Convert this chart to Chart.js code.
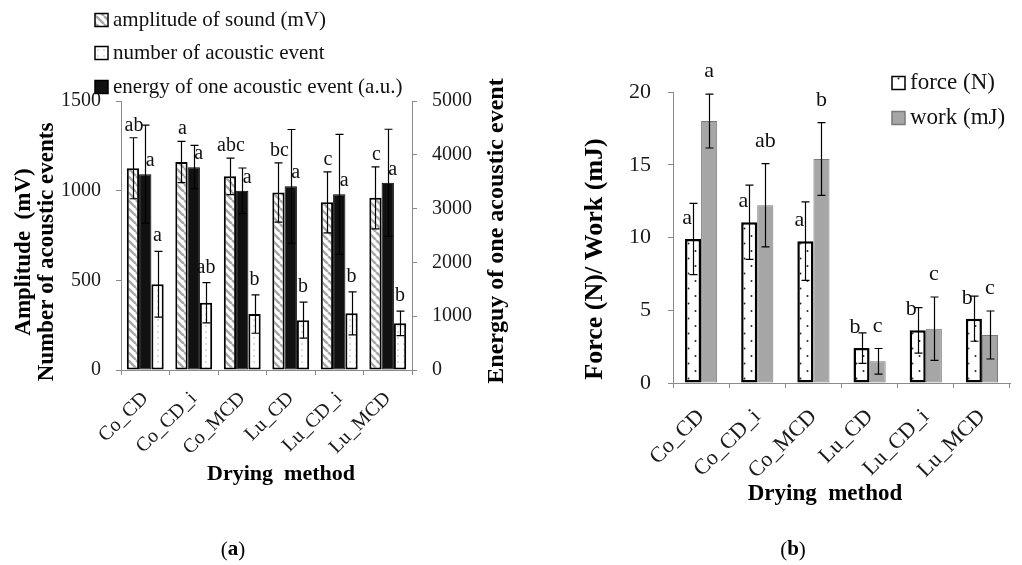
<!DOCTYPE html>
<html>
<head>
<meta charset="utf-8">
<script src="https://cdn.jsdelivr.net/npm/chart.js@4.4.1/dist/chart.umd.min.js"></script>
<style>
  html, body { margin: 0; padding: 0; background: #fff; }
  body { width: 1022px; height: 565px; position: relative; overflow: hidden; }
  #wrapA { position: absolute; left: 0; top: 0; width: 545px; height: 565px; }
  #wrapB { position: absolute; left: 545px; top: 0; width: 477px; height: 565px; }
</style>
</head>
<body>
<div id="wrapA"><canvas id="chartA"></canvas></div>
<div id="wrapB"><canvas id="chartB"></canvas></div>
<script>
// shared categories
const categories = ['Co_CD', 'Co_CD_i', 'Co_MCD', 'Lu_CD', 'Lu_CD_i', 'Lu_MCD'];

// panel (a)
const amplitude = [1125, 1160, 1080, 990, 935, 960];
const amplitudeErr = [170, 115, 102, 165, 170, 173];
const amplitudeLetters = ['ab', 'a', 'abc', 'bc', 'c', 'c'];
const energy = [3640, 3770, 3330, 3415, 3265, 3480];
const energyErr = [910, 405, 425, 1055, 1115, 995];
const energyLetters = ['a', 'a', 'a', 'a', 'a', 'a'];
const events = [478, 375, 312, 278, 316, 260];
const eventsErr = [183, 112, 107, 100, 120, 68];
const eventsLetters = ['a', 'ab', 'b', 'b', 'b', 'b'];
const leftTicksA = [0, 500, 1000, 1500];
const rightTicksA = [0, 1000, 2000, 3000, 4000, 5000];

// panel (b)
const force = [9.9, 11.05, 9.75, 2.4, 3.62, 4.42];
const forceErr = [2.45, 2.55, 2.7, 1.05, 1.56, 1.55];
const forceLetters = ['a', 'a', 'a', 'b', 'b', 'b'];
const work = [18.0, 12.22, 15.39, 1.49, 3.73, 3.3];
const workErr = [1.85, 2.86, 2.5, 0.88, 2.18, 1.65];
const workLetters = ['a', 'ab', 'b', 'c', 'c', 'c'];
const ticksB = [0, 5, 10, 15, 20];

const SERIF = "'Liberation Serif', 'Times New Roman', serif";
const AXIS = '#8a8a8a';

function hatchPattern(ctx) {
  const c = document.createElement('canvas');
  c.width = 8; c.height = 8;
  const g = c.getContext('2d');
  g.fillStyle = '#fff';
  g.fillRect(0, 0, 8, 8);
  g.strokeStyle = '#a8a8a8';
  g.lineWidth = 2.5;
  g.beginPath();
  for (const o of [-8, 0, 8]) { g.moveTo(o, 0); g.lineTo(o + 8, 8); }
  g.stroke();
  return ctx.createPattern(c, 'repeat');
}

function dotPattern(ctx, w, h, dots, color, r) {
  const c = document.createElement('canvas');
  c.width = w; c.height = h;
  const g = c.getContext('2d');
  g.fillStyle = '#fff';
  g.fillRect(0, 0, w, h);
  g.fillStyle = color;
  dots.forEach(([x, y]) => { g.beginPath(); g.arc(x, y, r, 0, Math.PI * 2); g.fill(); });
  return ctx.createPattern(c, 'repeat');
}

const errorBars = {
  id: 'errorBars',
  afterDatasetsDraw(chart) {
    const ctx = chart.ctx;
    chart.data.datasets.forEach((ds, i) => {
      if (!ds.errors) return;
      const meta = chart.getDatasetMeta(i);
      const scale = chart.scales[meta.yAxisID];
      ctx.save();
      ctx.strokeStyle = '#000';
      ctx.lineWidth = 1.2;
      meta.data.forEach((bar, j) => {
        const top = scale.getPixelForValue(ds.data[j] + ds.errors[j]);
        const bottom = scale.getPixelForValue(ds.data[j] - ds.errors[j]);
        const x = Math.round(bar.x) + 0.5;
        ctx.beginPath();
        ctx.moveTo(x, top); ctx.lineTo(x, bottom);
        ctx.moveTo(x - 4, top); ctx.lineTo(x + 4, top);
        ctx.moveTo(x - 4, bottom); ctx.lineTo(x + 4, bottom);
        ctx.stroke();
      });
      ctx.restore();
    });
  }
};

const letterLabels = {
  id: 'letterLabels',
  afterDatasetsDraw(chart, args, opts) {
    const ctx = chart.ctx;
    chart.data.datasets.forEach((ds, i) => {
      if (!ds.letters) return;
      const meta = chart.getDatasetMeta(i);
      const scale = chart.scales[meta.yAxisID];
      const p = ds.letterPlace;
      ctx.save();
      ctx.font = opts.font;
      ctx.fillStyle = '#111';
      ctx.textAlign = p.align;
      ctx.textBaseline = 'alphabetic';
      meta.data.forEach((bar, j) => {
        const ref = p.from === 'error' ? ds.data[j] + ds.errors[j] : ds.data[j];
        ctx.fillText(ds.letters[j], bar.x + p.dx, scale.getPixelForValue(ref) - p.gap);
      });
      ctx.restore();
    });
  }
};

const panelText = {
  id: 'panelText',
  afterDraw(chart, args, opts) {
    const ctx = chart.ctx;
    (opts.items || []).forEach(it => {
      ctx.save();
      ctx.translate(it.x, it.y);
      if (it.rot) ctx.rotate(it.rot * Math.PI / 180);
      ctx.fillStyle = '#000';
      ctx.textBaseline = 'middle';
      const parts = it.parts || [{ text: it.text, font: it.font }];
      let total = 0;
      parts.forEach(pt => { ctx.font = pt.font; pt.w = ctx.measureText(pt.text).width; total += pt.w; });
      let x = -total / 2;
      ctx.textAlign = 'left';
      parts.forEach(pt => { ctx.font = pt.font; ctx.fillText(pt.text, x, 0); x += pt.w; });
      ctx.restore();
    });
  }
};

const panelLegend = {
  id: 'panelLegend',
  afterDraw(chart, args, opts) {
    const ctx = chart.ctx;
    (opts.items || []).forEach(it => {
      const ds = chart.data.datasets[it.ds];
      ctx.save();
      ctx.fillStyle = ds.backgroundColor;
      ctx.fillRect(it.x, it.y - 6.5, 13, 13);
      ctx.strokeStyle = ds.legendBorder || '#000';
      ctx.lineWidth = 1.5;
      ctx.strokeRect(it.x, it.y - 6.5, 13, 13);
      ctx.font = opts.font;
      ctx.fillStyle = '#111';
      ctx.textBaseline = 'middle';
      ctx.fillText(ds.label, it.x + 18, it.y);
      ctx.restore();
    });
  }
};

function axisCommon(size) {
  return {
    grid: { drawOnChartArea: false, drawTicks: true, tickLength: 5, color: AXIS },
    border: { display: true, color: AXIS, width: 1 },
    ticks: { color: '#1a1a1a', font: { family: SERIF, size: size } }
  };
}

const plainNumber = v => String(v);

// ---------- panel (a)
const ctxA = document.getElementById('chartA').getContext('2d');
const xA = axisCommon(20);
xA.ticks.minRotation = 45; xA.ticks.maxRotation = 45; xA.ticks.padding = 12;
xA.afterFit = s => { s.height = 195; };
const yA = axisCommon(20);
Object.assign(yA, { min: 0, max: 1500, afterFit: s => { s.width = 121; } });
yA.ticks.padding = 15;
yA.ticks.callback = plainNumber;
yA.afterBuildTicks = s => { s.ticks = leftTicksA.map(v => ({ value: v })); };
const y1A = axisCommon(20);
Object.assign(y1A, { position: 'right', min: 0, max: 5000, afterFit: s => { s.width = 133; } });
y1A.ticks.padding = 15;
y1A.ticks.callback = plainNumber;
y1A.afterBuildTicks = s => { s.ticks = rightTicksA.map(v => ({ value: v })); };

new Chart(ctxA, {
  type: 'bar',
  data: {
    labels: categories,
    datasets: [
      { label: 'amplitude of sound (mV)', data: amplitude, errors: amplitudeErr, letters: amplitudeLetters,
        letterPlace: { from: 'error', gap: 7, dx: 1, align: 'center' },
        yAxisID: 'y', backgroundColor: hatchPattern(ctxA), borderColor: '#000', borderWidth: 2 },
      { label: 'energy of one acoustic event (a.u.)', data: energy, errors: energyErr, letters: energyLetters,
        letterPlace: { from: 'bar', gap: 8, dx: 5, align: 'center' },
        yAxisID: 'y1', backgroundColor: '#111', borderColor: '#000', borderWidth: 1 },
      { label: 'number of acoustic event', data: events, errors: eventsErr, letters: eventsLetters,
        letterPlace: { from: 'error', gap: 10, dx: 0, align: 'center' },
        yAxisID: 'y', backgroundColor: dotPattern(ctxA, 6, 6, [[2, 2]], '#a0a0a0', 0.7), borderColor: '#000', borderWidth: 2 }
    ]
  },
  options: {
    responsive: true, maintainAspectRatio: false, animation: false,
    layout: { padding: { top: 101, left: 0, right: 0, bottom: 0 } },
    datasets: { bar: { categoryPercentage: 0.76, barPercentage: 1, borderSkipped: false } },
    scales: { x: xA, y: yA, y1: y1A },
    plugins: {
      legend: { display: false },
      tooltip: { enabled: false },
      letterLabels: { font: '20px ' + SERIF },
      panelText: { items: [
        { text: 'Amplitude  (mV)', x: 24, y: 252, rot: -90, font: 'bold 23px ' + SERIF },
        { text: 'Number of acoustic events', x: 47, y: 252, rot: -90, font: 'bold 23px ' + SERIF },
        { text: 'Energuy of one acoustic event', x: 497, y: 231, rot: -90, font: 'bold 24px ' + SERIF },
        { text: 'Drying  method', x: 281, y: 474, font: 'bold 22px ' + SERIF },
        { x: 233, y: 550, parts: [
          { text: '(', font: '21px ' + SERIF }, { text: 'a', font: 'bold 21px ' + SERIF }, { text: ')', font: '21px ' + SERIF }] }
      ] },
      panelLegend: { font: '21px ' + SERIF, items: [
        { ds: 0, x: 95, y: 20 }, { ds: 2, x: 95, y: 53 }, { ds: 1, x: 95, y: 87 }
      ] }
    }
  },
  plugins: [errorBars, letterLabels, panelText, panelLegend]
});

// ---------- panel (b)
const ctxB = document.getElementById('chartB').getContext('2d');
const xB = axisCommon(22);
xB.ticks.minRotation = 45; xB.ticks.maxRotation = 45; xB.ticks.padding = 16;
xB.afterFit = s => { s.height = 182; };
const yB = axisCommon(22);
Object.assign(yB, { min: 0, max: 20, afterFit: s => { s.width = 128; } });
yB.ticks.padding = 17;
yB.ticks.callback = plainNumber;
yB.afterBuildTicks = s => { s.ticks = ticksB.map(v => ({ value: v })); };

new Chart(ctxB, {
  type: 'bar',
  data: {
    labels: categories,
    datasets: [
      { label: 'force (N)', data: force, errors: forceErr, letters: forceLetters,
        letterPlace: { from: 'bar', gap: 15, dx: -1, align: 'right' },
        backgroundColor: dotPattern(ctxB, 14, 15, [[3.5, 3.5], [10.5, 11]], '#222', 1), borderColor: '#000', borderWidth: 2.5 },
      { label: 'work (mJ)', data: work, errors: workErr, letters: workLetters,
        letterPlace: { from: 'error', gap: 17, dx: 0, align: 'center' },
        backgroundColor: '#a6a6a6', borderColor: '#7a7a7a', borderWidth: 1, legendBorder: '#7a7a7a' }
    ]
  },
  options: {
    responsive: true, maintainAspectRatio: false, animation: false,
    layout: { padding: { top: 92, left: 0, right: 12, bottom: 0 } },
    datasets: { bar: { categoryPercentage: 0.573, barPercentage: 1, borderSkipped: false } },
    scales: { x: xB, y: yB },
    plugins: {
      legend: { display: false },
      tooltip: { enabled: false },
      letterLabels: { font: '22px ' + SERIF },
      panelText: { items: [
        { text: 'Force (N)/ Work (mJ)', x: 50, y: 259, rot: -90, font: 'bold 26px ' + SERIF },
        { text: 'Drying  method', x: 280, y: 494, font: 'bold 23px ' + SERIF },
        { x: 248, y: 550, parts: [
          { text: '(', font: '21px ' + SERIF }, { text: 'b', font: 'bold 21px ' + SERIF }, { text: ')', font: '21px ' + SERIF }] }
      ] },
      panelLegend: { font: '23px ' + SERIF, items: [
        { ds: 0, x: 347, y: 83 }, { ds: 1, x: 347, y: 118 }
      ] }
    }
  },
  plugins: [errorBars, letterLabels, panelText, panelLegend]
});
</script>
</body>
</html>
